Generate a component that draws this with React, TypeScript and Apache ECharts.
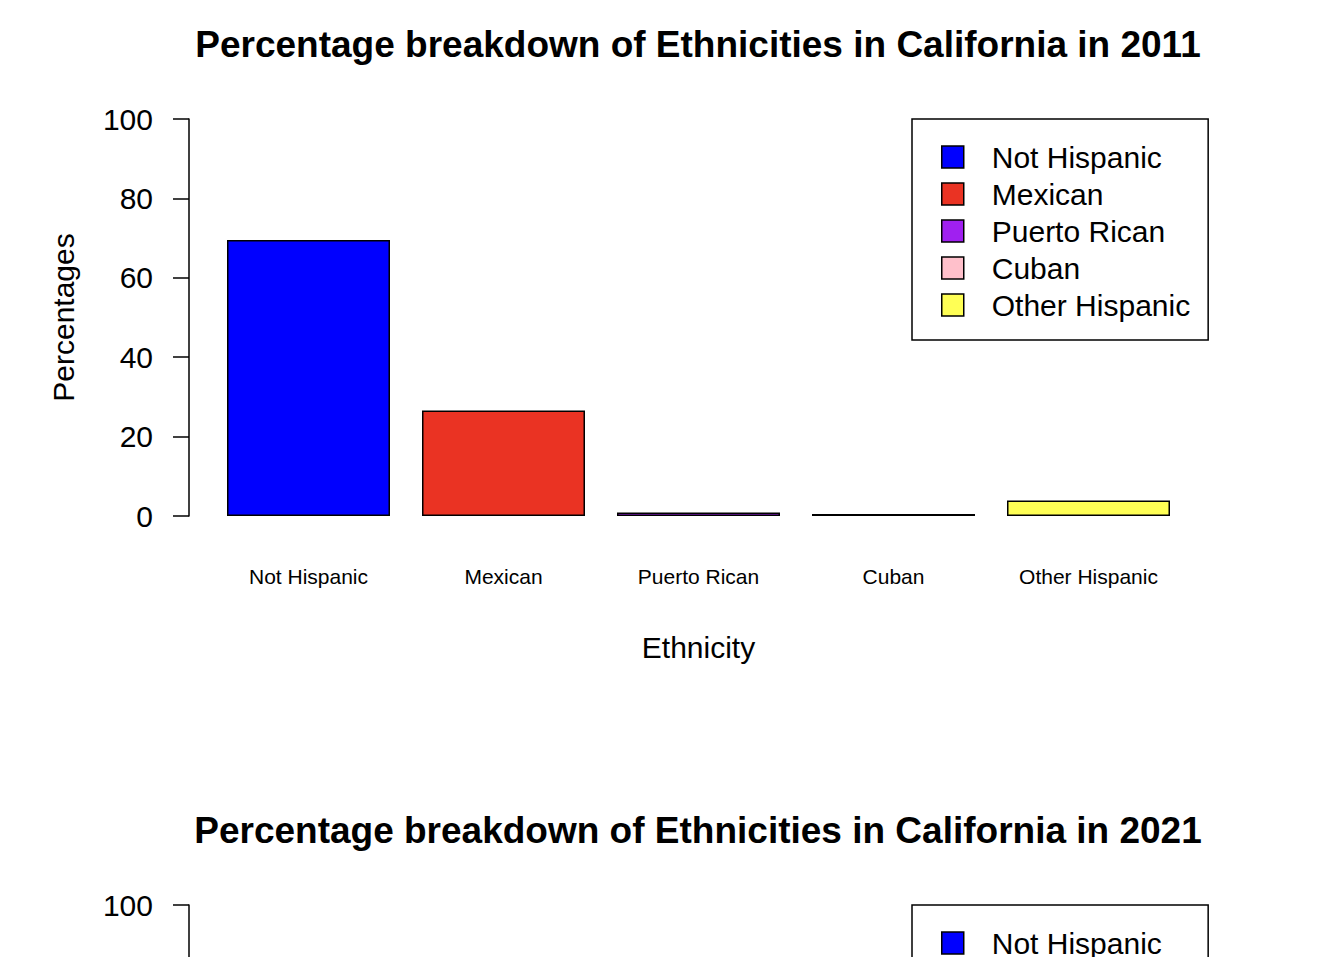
import React, { useEffect, useRef } from "react";
import * as echarts from "echarts";

const categories = ["Not Hispanic", "Mexican", "Puerto Rican", "Cuban", "Other Hispanic"];
const colors = ["#0000FF", "#EA3323", "#A020F0", "#FFC0CB", "#FFFF55"];
const values2011 = [69.5, 26.6, 0.9, 0.5, 3.9];
const values2021 = [60.8, 31.4, 0.7, 0.4, 6.9];
const yTicks = [0, 20, 40, 60, 80, 100];
const titles = [
  "Percentage breakdown of Ethnicities in California in 2011",
  "Percentage breakdown of Ethnicities in California in 2021",
];

const FONT = "'Liberation Sans', Arial, Helvetica, sans-serif";

export default function App() {
  const ref = useRef<HTMLDivElement>(null);

  useEffect(() => {
    if (!ref.current) return;
    const chart = echarts.init(ref.current, null, { renderer: "svg" });
    const datasets = [values2011, values2021];
    const offsets = [0, 786];

    const grids: any[] = [];
    const xAxes: any[] = [];
    const yAxes: any[] = [];
    const series: any[] = [];
    const legends: any[] = [];
    const titleOpts: any[] = [];

    datasets.forEach((vals, gi) => {
      const off = offsets[gi];
      titleOpts.push({
        text: titles[gi],
        left: 698,
        textAlign: "center",
        top: 26 + off,
        padding: 0,
        textStyle: { fontFamily: FONT, fontSize: 37, fontWeight: "bold", color: "#000" },
      });
      grids.push({ left: 211, width: 975, top: 119 + off, height: 397 });
      xAxes.push({
        type: "category",
        gridIndex: gi,
        data: categories,
        axisLine: { show: false },
        axisTick: { show: false },
        axisLabel: { fontFamily: FONT, fontSize: 21, color: "#000", margin: 50, interval: 0 },
        name: "Ethnicity",
        nameLocation: "middle",
        nameGap: 116,
        nameTextStyle: { fontFamily: FONT, fontSize: 30, color: "#000", lineHeight: 30 },
      });
      yAxes.push({
        type: "value",
        gridIndex: gi,
        min: 0,
        max: 100,
        interval: 20,
        offset: 22,
        splitLine: { show: false },
        axisLine: { show: true, lineStyle: { color: "#000", width: 1.5 } },
        axisTick: { show: true, inside: false, length: 16, lineStyle: { color: "#000", width: 1.5 } },
        axisLabel: {
          fontFamily: FONT,
          fontSize: 30,
          color: "#000",
          margin: 36,
          formatter: (v: number) => (yTicks.includes(v) ? String(v) : ""),
        },
        name: "Percentages",
        nameLocation: "middle",
        nameGap: 111,
        nameTextStyle: { fontFamily: FONT, fontSize: 30, color: "#000", lineHeight: 30 },
      });
      categories.forEach((cat, ci) => {
        series.push({
          type: "bar",
          name: cat,
          xAxisIndex: gi,
          yAxisIndex: gi,
          stack: "s" + gi,
          barWidth: 163,
          data: categories.map((_, k) => (k === ci ? vals[ci] : "-")),
          itemStyle: { color: colors[ci], borderColor: "#000", borderWidth: 1.5 },
        });
      });
      legends.push({
        orient: "vertical",
        left: 912,
        top: 119 + off,
        data: categories,
        icon: "rect",
        itemWidth: 22,
        itemHeight: 22,
        itemGap: 7,
        padding: [23, 18, 20, 29],
        borderColor: "#000",
        borderWidth: 1.5,
        selectedMode: false,
        itemStyle: { borderColor: "#000", borderWidth: 1.5 },
        textStyle: {
          fontFamily: FONT,
          fontSize: 30,
          color: "#000",
          lineHeight: 30,
          padding: [0, 0, 0, 23],
        },
      });
    });

    chart.setOption({
      animation: false,
      backgroundColor: "#fff",
      title: titleOpts,
      grid: grids,
      xAxis: xAxes,
      yAxis: yAxes,
      legend: legends,
      series,
    });
    return () => chart.dispose();
  }, []);

  return (
    <div
      style={{
        position: "fixed",
        left: 0,
        top: 0,
        width: 1330,
        height: 957,
        overflow: "hidden",
        background: "#fff",
      }}
    >
      <div ref={ref} style={{ width: 1330, height: 1572 }} />
    </div>
  );
}
